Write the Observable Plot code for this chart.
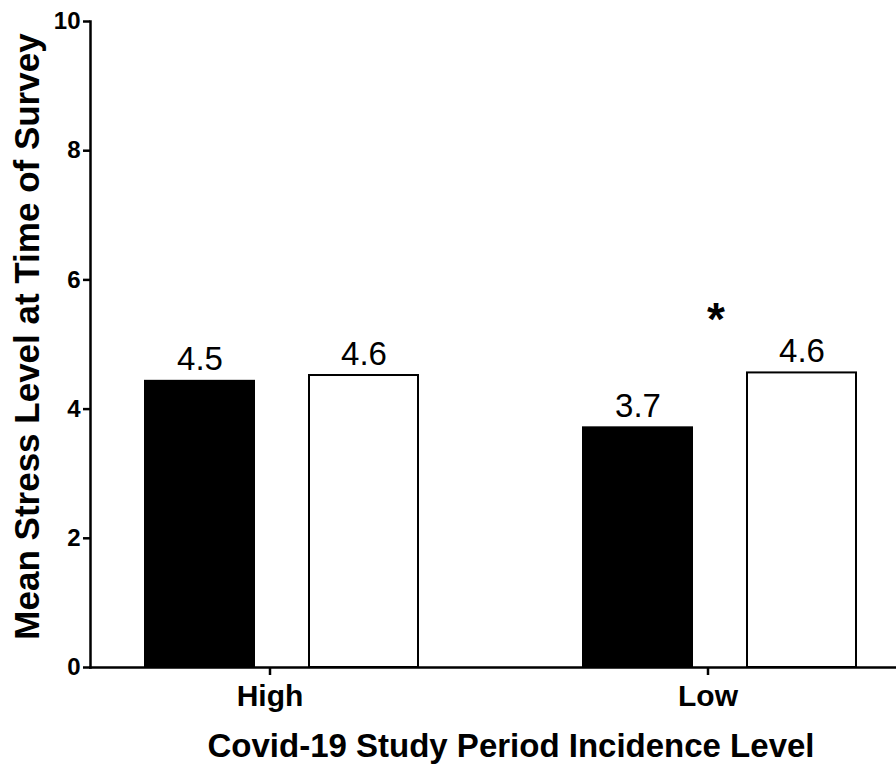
<!DOCTYPE html>
<html><head><meta charset="utf-8">
<script src="https://cdn.jsdelivr.net/npm/d3@7"></script>
<script src="https://cdn.jsdelivr.net/npm/@observablehq/plot@0.6"></script>
<style>body{margin:0;background:#fff;} #chart svg{display:block;}</style>
</head><body><div id="chart"></div>
<script>
// Data
const groups = ["High", "Low"];
const series = ["Filled", "Open"];
const meanFilled = [4.43, 3.71];
const meanOpen = [4.52, 4.56];
const labelFilled = ["4.5", "3.7"];
const labelOpen = ["4.6", "4.6"];
const yTicks = [0, 2, 4, 6, 8, 10];
const sigGroups = ["Low"];
const sigLevels = [5.38];
const sigText = ["*"];
const yTitle = "Mean Stress Level at Time of Survey";
const xTitle = "Covid-19 Study Period Incidence Level";

const data = groups.flatMap((g, i) => [
  {group: g, series: series[0], value: meanFilled[i], label: labelFilled[i]},
  {group: g, series: series[1], value: meanOpen[i], label: labelOpen[i]}
]);
const sig = sigGroups.map((g, i) => ({group: g, y: sigLevels[i], text: sigText[i]}));
const yTickData = yTicks.map(t => ({group: groups[0], t}));

const font = "'Liberation Sans', Arial, sans-serif";

const chart = Plot.plot({
  width: 896,
  height: 764,
  marginLeft: 90,
  marginRight: 0,
  marginTop: 21,
  marginBottom: 97,
  style: {fontFamily: font, background: "white", color: "black"},
  fx: {domain: groups, range: [90, 911], paddingInner: 0.1256, paddingOuter: 0, label: null},
  x: {domain: series, padding: 0.335, axis: null},
  y: {domain: [0, 10], axis: null},
  color: {domain: series, range: ["black", "white"]},
  marks: [
    Plot.barY(data, {fx: "group", x: "series", y: "value", fill: "series", stroke: "black", strokeWidth: 2}),
    Plot.text(data, {fx: "group", x: "series", y: "value", text: "label", dy: -11, lineAnchor: "bottom", fontSize: 33, fill: "black"}),
    Plot.text(sig, {fx: "group", y: "y", text: "text", fontSize: 46, fontWeight: "bold", lineAnchor: "middle", dx: -4, fill: "black"}),
    Plot.axisY({ticks: yTicks, tickSize: 7, text: null, strokeWidth: 2.5, label: null}),
    Plot.text(yTickData, {fx: "group", y: "t", text: d => String(d.t), frameAnchor: "left", dx: -10, textAnchor: "end", lineAnchor: "middle", fontSize: 24, fontWeight: "bold", fill: "black"}),
    Plot.axisFx({anchor: "bottom", tickSize: 8, tickPadding: 9, fontSize: 30, fontWeight: "bold", strokeWidth: 2.5, dx: -12, label: null, fill: "black"}),
    Plot.frame({anchor: "bottom", facet: "super", strokeWidth: 2.5}),
    Plot.frame({anchor: "left", facet: "super", strokeWidth: 2.5}),
    Plot.text([yTitle], {facet: "super", frameAnchor: "left", rotate: -90, dx: -63, dy: -8, fontSize: 35, fontWeight: "bold", lineAnchor: "middle", textAnchor: "middle", fill: "black"}),
    Plot.text([xTitle], {facet: "super", frameAnchor: "bottom", dx: 10, dy: 79, fontSize: 33, fontWeight: "bold", lineAnchor: "middle", textAnchor: "middle", fill: "black"})
  ]
});
document.getElementById("chart").append(chart);
</script>
</body></html>
